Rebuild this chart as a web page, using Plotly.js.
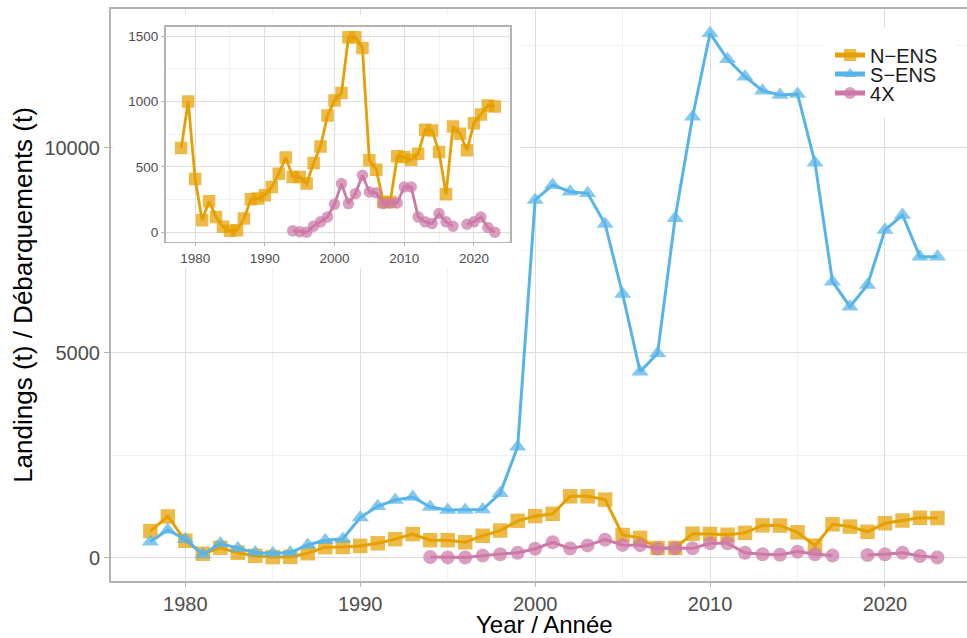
<!DOCTYPE html>
<html>
<head>
<meta charset="utf-8">
<script src="https://cdn.plot.ly/plotly-3.0.1.min.js"></script>
<style>html,body{margin:0;padding:0;background:#fff;}#chart{width:967px;height:638px;}</style>
</head>
<body>
<div id="chart"></div>
<script>
// ---- data ----
const years = [1978,1979,1980,1981,1982,1983,1984,1985,1986,1987,1988,1989,1990,1991,1992,1993,1994,1995,1996,1997,1998,1999,2000,2001,2002,2003,2004,2005,2006,2007,2008,2009,2010,2011,2012,2013,2014,2015,2016,2017,2018,2019,2020,2021,2022,2023];
const nENS = [644,1001,408,92,237,117,41,10,15,104,252,257,283,346,448,571,423,423,372,530,657,894,1009,1065,1493,1493,1411,550,479,232,232,581,576,555,601,784,779,614,290,810,754,627,835,902,970,963];
const sENS = [385,671,443,75,340,224,120,102,120,305,420,450,975,1250,1402,1475,1230,1159,1159,1170,1565,2702,8720,9085,8923,8883,8134,6427,4532,4980,8273,10751,12785,12151,11727,11385,11280,11305,9630,6727,6117,6646,7988,8354,7337,7337];
const x4X = [null,null,null,null,null,null,null,null,null,null,null,null,null,null,null,null,10,3,0,46,79,117,214,372,219,295,436,308,301,219,224,224,346,346,117,79,66,143,79,46,null,61,79,117,36,0];
const seriesNames = ['N\u2212ENS','S\u2212ENS','4X'];
const xTickVals = [1980,1990,2000,2010,2020];
const xTitle = 'Year / Ann\u00e9e';
const yTitle = 'Landings (t) / D\u00e9barquements (t)';

const ORANGE = '#E69F00', BLUE = '#56B4E9', PINK = '#CC79A7';
const FONT = 'Liberation Sans, Arial, Helvetica, sans-serif';

function mainTrace(y, name, color, symbol, size, legendId) {
  return {
    x: years, y: y, name: name, type: 'scatter', mode: 'lines+markers',
    xaxis: 'x', yaxis: 'y', legend: legendId, connectgaps: false,
    line: {color: color, width: 3},
    marker: {color: color, symbol: symbol, size: size, opacity: 0.72, line: {width: 0}}
  };
}
function insetTrace(y, name, color, symbol, size) {
  return {
    x: years, y: y, name: name, type: 'scatter', mode: 'lines+markers',
    xaxis: 'x3', yaxis: 'y3', showlegend: false, connectgaps: false,
    line: {color: color, width: 2.8},
    marker: {color: color, symbol: symbol, size: size, opacity: 0.72, line: {width: 0}}
  };
}
// empty traces that only create white background panels (inset box, legend box)
function bgPanel(xa, ya) {
  return {x: [], y: [], type: 'scatter', mode: 'markers', xaxis: xa, yaxis: ya, showlegend: false, hoverinfo: 'skip'};
}

const data = [
  mainTrace(nENS, seriesNames[0], ORANGE, 'square', 14.5, 'legend'),
  mainTrace(sENS, seriesNames[1], BLUE, 'triangle-up', 15, 'legend2'),
  mainTrace(x4X, seriesNames[2], PINK, 'circle', 14, 'legend3'),
  bgPanel('x2', 'y2'),
  insetTrace(nENS, seriesNames[0], ORANGE, 'square', 12.5),
  insetTrace(x4X, seriesNames[2], PINK, 'circle', 11.5),
  bgPanel('x4', 'y4')
];

const gridMajor = '#DEDEDE', gridMinor = '#EEEEEE', frame = '#B3B3B3', tickCol = '#4D4D4D';

function legendCfg(yPaper) {
  return {
    x: 0.840, xanchor: 'left', y: yPaper, yanchor: 'middle',
    bgcolor: 'rgba(0,0,0,0)', borderwidth: 0, itemsizing: 'constant', itemwidth: 30,
    font: {family: FONT, size: 20, color: '#1A1A1A'}
  };
}
function blankAxis(domain, anchor) {
  return {domain: domain, anchor: anchor, range: [0, 1], showgrid: false, zeroline: false,
          showline: false, showticklabels: false, ticks: '', fixedrange: true};
}

const layout = {
  width: 967, height: 638,
  margin: {l: 111, r: 0, t: 9, b: 57},
  paper_bgcolor: '#ffffff', plot_bgcolor: '#ffffff',
  font: {family: FONT},
  showlegend: true,
  legend: legendCfg(0.9196),
  legend2: legendCfg(0.8864),
  legend3: legendCfg(0.8531),
  xaxis: {
    range: [1975.75, 2024.69], tickmode: 'array', tickvals: xTickVals,
    showgrid: true, gridcolor: gridMajor, gridwidth: 1,
    minor: {tickmode: 'linear', tick0: 1975, dtick: 5, showgrid: true, gridcolor: gridMinor, gridwidth: 0.8},
    showline: true, linecolor: frame, linewidth: 2, mirror: true,
    ticks: 'outside', ticklen: 4, tickcolor: frame, tickwidth: 1,
    tickfont: {family: FONT, size: 20, color: tickCol},
    zeroline: false
  },
  yaxis: {
    range: [-573, 13378], tickmode: 'linear', tick0: 0, dtick: 5000, tickformat: 'd',
    showgrid: true, gridcolor: gridMajor, gridwidth: 1,
    minor: {tickmode: 'linear', tick0: 0, dtick: 2500, showgrid: true, gridcolor: gridMinor, gridwidth: 0.8},
    showline: true, linecolor: frame, linewidth: 2, mirror: false,
    ticks: 'outside', ticklen: 5, tickcolor: frame, tickwidth: 1,
    tickfont: {family: FONT, size: 20, color: tickCol},
    zeroline: false,
    title: {text: yTitle, font: {family: FONT, size: 26, color: '#000'}, standoff: 4}
  },
  // white box behind the inset (covers main gridlines)
  xaxis2: blankAxis([0.0023, 0.4778], 'y2'),
  yaxis2: blankAxis([0.5472, 0.9895], 'x2'),
  // the inset itself
  xaxis3: {
    domain: [0.0637, 0.4667], anchor: 'y3',
    range: [1975.75, 2025.25], tickmode: 'array', tickvals: xTickVals,
    showgrid: true, gridcolor: gridMajor, gridwidth: 1,
    minor: {tickmode: 'linear', tick0: 1975, dtick: 5, showgrid: true, gridcolor: gridMinor, gridwidth: 0.8},
    showline: true, linecolor: frame, linewidth: 1.5, mirror: true,
    ticks: 'outside', ticklen: 3, tickcolor: frame,
    tickfont: {family: FONT, size: 13.5, color: tickCol},
    zeroline: false
  },
  yaxis3: {
    domain: [0.5927, 0.9694], anchor: 'x3',
    range: [-75, 1575], tickmode: 'linear', tick0: 0, dtick: 500, tickformat: 'd',
    showgrid: true, gridcolor: gridMajor, gridwidth: 1,
    minor: {tickmode: 'linear', tick0: 0, dtick: 250, showgrid: true, gridcolor: gridMinor, gridwidth: 0.8},
    showline: true, linecolor: frame, linewidth: 1.5, mirror: true,
    ticks: 'outside', ticklen: 3, tickcolor: frame,
    tickfont: {family: FONT, size: 13.5, color: tickCol},
    zeroline: false
  },
  // white box behind the legend
  xaxis4: blankAxis([0.8318, 0.9883], 'y4'),
  yaxis4: blankAxis([0.8112, 0.9668], 'x4'),
  annotations: [
    {text: xTitle, xref: 'paper', yref: 'paper', x: 0.507, y: -0.0752, xanchor: 'center', yanchor: 'middle',
     showarrow: false, font: {family: FONT, size: 24, color: '#000'}}
  ]
};

Plotly.newPlot('chart', data, layout, {staticPlot: true, displayModeBar: false});
</script>
</body>
</html>
